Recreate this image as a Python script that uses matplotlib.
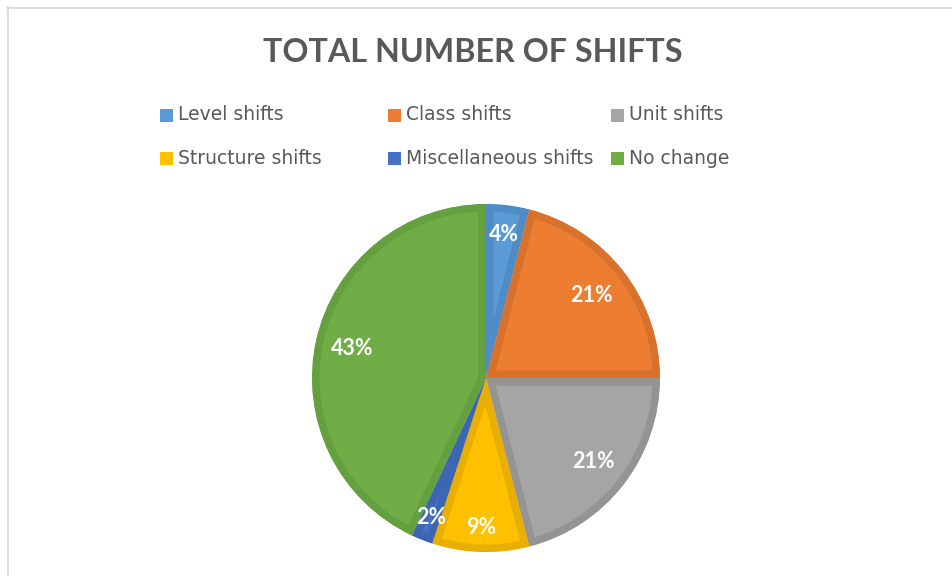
import matplotlib
matplotlib.use('Agg')
import matplotlib.pyplot as plt
from matplotlib.patches import Rectangle
from matplotlib.lines import Line2D
import numpy as np

# ---- data ----
categories = ['Level shifts', 'Class shifts', 'Unit shifts',
              'Structure shifts', 'Miscellaneous shifts', 'No change']
values = [4, 21, 21, 9, 2, 43]
title = 'TOTAL NUMBER OF SHIFTS'

# ---- style ----
fill_colors = ['#5B9BD5', '#ED7D31', '#A5A5A5', '#FFC000', '#4472C4', '#70AD47']
edge_colors = ['#4F8CC6', '#D7712C', '#949494', '#E8AE00', '#3C66B2', '#64A03F']
label_radius = [0.83, 0.77, 0.78, 0.86, 0.86, 0.79]
text_color = '#595959'

W, H = 952, 576
fig = plt.figure(figsize=(W / 100, H / 100), dpi=100)
fig.patch.set_facecolor('white')

# chart frame (left and top edges visible)
fig.add_artist(Line2D([7.5 / W, 7.5 / W], [0, 1 - 7 / H], transform=fig.transFigure,
                      color='#D9D9D9', lw=1.3))
fig.add_artist(Line2D([7 / W, 1], [1 - 7.5 / H, 1 - 7.5 / H], transform=fig.transFigure,
                      color='#D9D9D9', lw=1.3))

# pie axes
cx, cy, R = 486, 378, 174
half = 200
ax = fig.add_axes([(cx - half) / W, (H - cy - half) / H, 2 * half / W, 2 * half / H])
border_px = 7.5
wedges, _ = ax.pie(values, colors=fill_colors, startangle=90, counterclock=False,
                   radius=1, wedgeprops=dict(linewidth=2 * border_px * 72 / 100,
                                             joinstyle='miter'))
for w, ec in zip(wedges, edge_colors):
    w.set_edgecolor(ec)
    w.set_clip_on(True)
    w.set_clip_path(w)

for w, v, rf in zip(wedges, values, label_radius):
    ang = np.deg2rad((w.theta1 + w.theta2) / 2)
    ax.text(rf * np.cos(ang), rf * np.sin(ang), f'{v}%', ha='center', va='center',
            color='white', fontsize=15.5, fontweight='bold', family='Lato')

lim = half / R
ax.set_xlim(-lim, lim)
ax.set_ylim(-lim, lim)
ax.set_aspect('equal')
ax.axis('off')

# title
fig.text(472.5 / W, 1 - 52 / H, title, ha='center', va='center', fontsize=23.2,
         fontweight='bold', color=text_color, family='Lato')

# legend (manual, Excel-like layout)
col_x = [160, 388, 611]
row_y = [115, 158]
msize = 13
for i, (cat, col) in enumerate(zip(categories, fill_colors)):
    x = col_x[i % 3]
    y = row_y[i // 3]
    fig.add_artist(Rectangle((x / W, 1 - (y + msize / 2) / H), msize / W, msize / H,
                             transform=fig.transFigure, facecolor=col, edgecolor='none'))
    fig.text((x + msize + 5) / W, 1 - y / H, cat, ha='left', va='center',
             fontsize=13.5, color=text_color, family='DejaVu Sans')

fig.savefig('out.png', dpi=100, facecolor='white')
